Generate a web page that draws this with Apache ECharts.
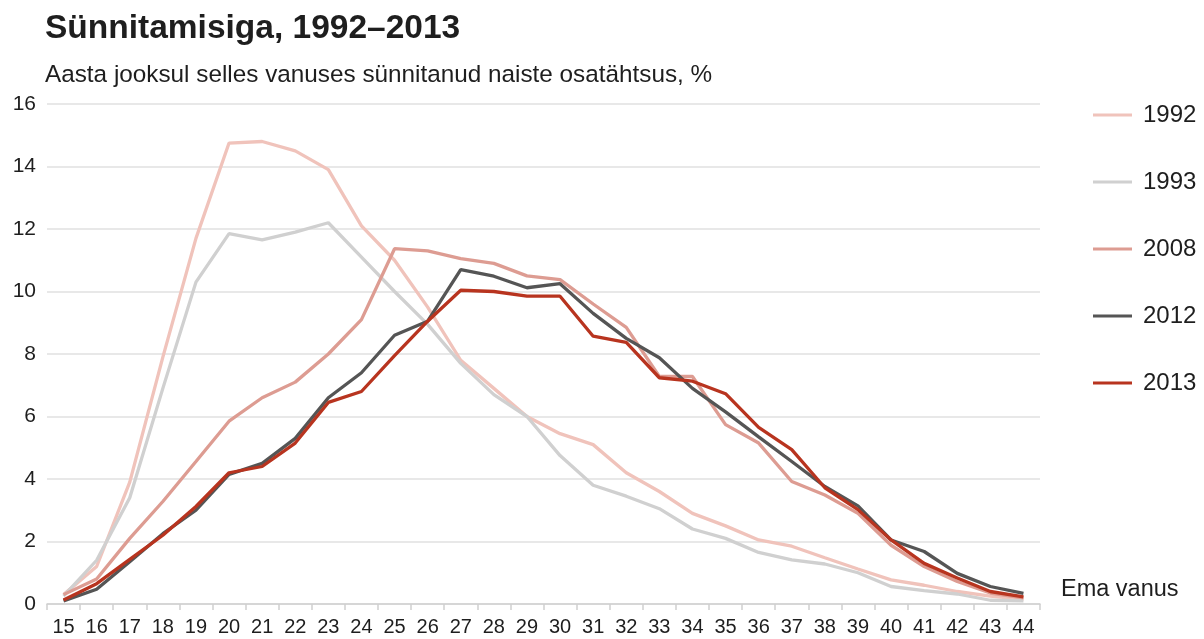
<!DOCTYPE html>
<html>
<head>
<meta charset="utf-8">
<style>
  html, body { margin: 0; padding: 0; background: #fff; }
  #chart { width: 1204px; height: 639px; }
</style>
<script src="https://cdn.jsdelivr.net/npm/echarts@6/dist/echarts.min.js"></script>
</head>
<body>
<div id="chart"></div>
<script>
// vanused (ema vanus)
const ages = ['15','16','17','18','19','20','21','22','23','24','25','26','27','28','29',
  '30','31','32','33','34','35','36','37','38','39','40','41','42','43','44'];

const y1992 = [0.3, 1.2, 3.9, 7.9, 11.7, 14.75, 14.8, 14.5, 13.9, 12.1, 11.0, 9.5, 7.8, 6.9, 6.0,
  5.45, 5.1, 4.2, 3.6, 2.9, 2.5, 2.05, 1.85, 1.48, 1.12, 0.77, 0.6, 0.4, 0.25, 0.15];
const y1993 = [0.25, 1.4, 3.4, 6.9, 10.3, 11.85, 11.65, 11.9, 12.2, 11.1, 10.0, 8.95, 7.7, 6.7, 6.0,
  4.75, 3.8, 3.45, 3.05, 2.4, 2.1, 1.65, 1.41, 1.28, 1.0, 0.56, 0.43, 0.32, 0.12, 0.1];
const y2008 = [0.3, 0.8, 2.1, 3.28, 4.56, 5.85, 6.6, 7.1, 8.0, 9.1, 11.37, 11.3, 11.05, 10.9, 10.5,
  10.38, 9.6, 8.85, 7.28, 7.28, 5.74, 5.15, 3.92, 3.49, 2.9, 1.88, 1.2, 0.72, 0.35, 0.2];
const y2012 = [0.1, 0.47, 1.35, 2.25, 3.0, 4.15, 4.5, 5.3, 6.6, 7.4, 8.6, 9.05, 10.7, 10.49, 10.12,
  10.25, 9.3, 8.5, 7.88, 6.9, 6.15, 5.35, 4.56, 3.76, 3.14, 2.05, 1.68, 0.98, 0.56, 0.34];
const y2013 = [0.13, 0.65, 1.43, 2.2, 3.12, 4.2, 4.4, 5.15, 6.45, 6.8, 7.95, 9.05, 10.04, 10.0, 9.85,
  9.85, 8.57, 8.37, 7.24, 7.13, 6.73, 5.65, 4.94, 3.72, 3.02, 2.05, 1.3, 0.83, 0.4, 0.23];

const yTicks = [0, 2, 4, 6, 8, 10, 12, 14, 16];

const seriesDefs = [
  { name: '1992', data: y1992, color: '#f0c3bb' },
  { name: '1993', data: y1993, color: '#d0d0d0' },
  { name: '2008', data: y2008, color: '#dd9c92' },
  { name: '2012', data: y2012, color: '#555555' },
  { name: '2013', data: y2013, color: '#b8341f' }
];

const textColor = '#1e1e1e';
const font = 'Liberation Sans, Arial, sans-serif';

const chart = echarts.init(document.getElementById('chart'));
chart.setOption({
  animation: false,
  textStyle: { fontFamily: font },
  title: [{
    text: 'Sünnitamisiga, 1992–2013',
    left: 40,
    top: 7,
    textStyle: { fontSize: 33.5, fontWeight: 'bold', color: textColor, fontFamily: font }
  }, {
    text: 'Aasta jooksul selles vanuses sünnitanud naiste osatähtsus, %',
    left: 40,
    top: 58,
    textStyle: { fontSize: 24.3, fontWeight: 'normal', color: textColor, fontFamily: font }
  }],
  legend: {
    orient: 'vertical',
    left: 1088,
    top: 98,
    itemWidth: 39,
    itemHeight: 3,
    itemGap: 43,
    icon: 'rect',
    textStyle: { fontSize: 24, color: textColor, padding: [0, 0, 0, 6] },
    data: seriesDefs.map(s => s.name)
  },
  grid: { left: 47, right: 164, top: 104, bottom: 35, containLabel: false },
  xAxis: {
    type: 'category',
    data: ages,
    boundaryGap: true,
    name: 'Ema vanus',
    nameLocation: 'end',
    nameGap: 21,
    nameTextStyle: { fontSize: 23.5, color: textColor, verticalAlign: 'bottom', padding: [0, 0, 2, 0] },
    axisLine: { lineStyle: { color: '#cfcfcf', width: 1.5 } },
    axisTick: { show: true, length: 6, lineStyle: { color: '#cfcfcf', width: 1.5 } },
    axisLabel: { fontSize: 20, color: textColor, margin: 13 }
  },
  yAxis: {
    type: 'value',
    min: 0,
    max: 16,
    interval: 2,
    axisLine: { show: false },
    axisTick: { show: false },
    splitLine: { lineStyle: { color: '#e0e0e0', width: 1.5 } },
    axisLabel: {
      fontSize: 21, color: textColor, margin: 11,
      formatter: v => (yTicks.includes(v) ? String(v) : ''),
      padding: [0, 0, 6, 0]
    }
  },
  series: seriesDefs.map((s, i) => ({
    name: s.name,
    type: 'line',
    data: s.data,
    symbol: 'none',
    z: 2 + i,
    color: s.color,
    lineStyle: { color: s.color, width: 3.3 },
    emphasis: { disabled: true }
  }))
});
</script>
</body>
</html>
